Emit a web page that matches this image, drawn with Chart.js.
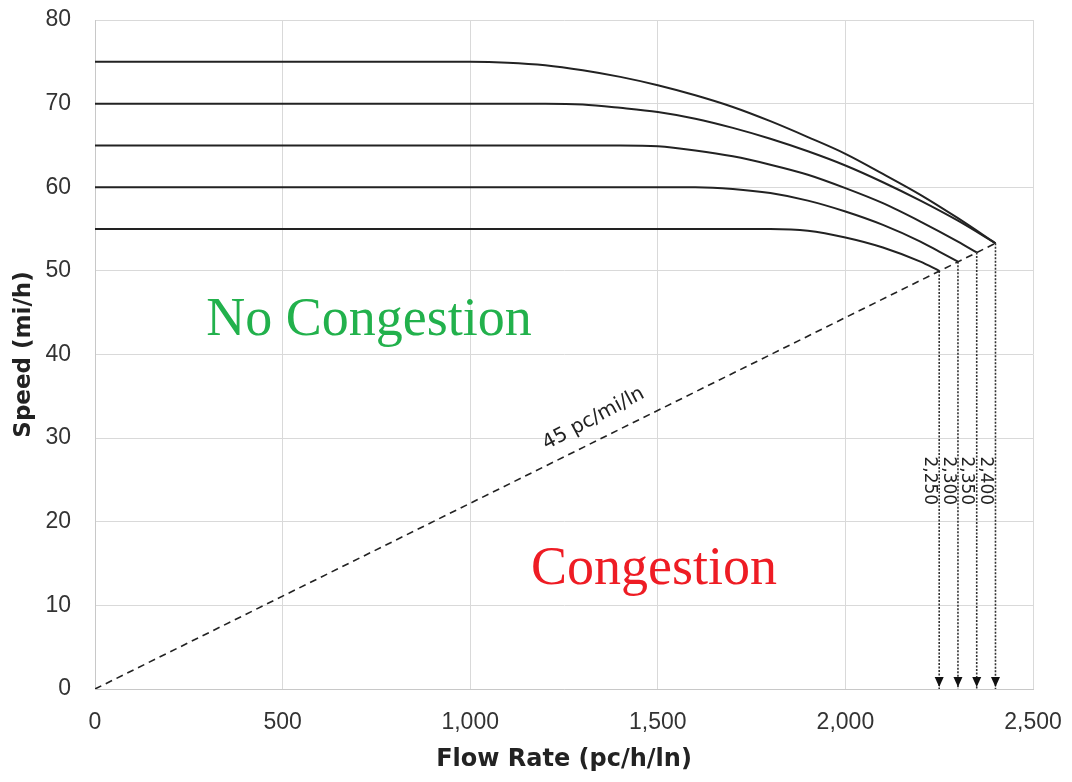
<!DOCTYPE html>
<html>
<head>
<meta charset="utf-8">
<script src="https://cdn.jsdelivr.net/npm/chart.js@4/dist/chart.umd.min.js"></script>
<style>
  html, body { margin: 0; padding: 0; background: #fff; }
  #wrap { width: 1072px; height: 782px; position: relative; }
</style>
</head>
<body>
<div id="wrap"><canvas id="c" width="1072" height="782"></canvas></div>
<script>
// ---- Data ----
const flow75  = [0, 1000, 1100, 1200, 1300, 1400, 1500, 1600, 1700, 1800, 1900, 2000, 2100, 2200, 2300, 2400];
const speed75 = [75, 75, 74.9, 74.6, 74.0, 73.2, 72.2, 71.0, 69.6, 67.9, 66.0, 64.0, 61.6, 59.1, 56.3, 53.3];

const flow70  = [0, 1200, 1300, 1400, 1500, 1600, 1700, 1800, 1900, 2000, 2100, 2200, 2300, 2400];
const speed70 = [70, 70, 69.9, 69.5, 69.0, 68.2, 67.1, 65.8, 64.3, 62.6, 60.6, 58.4, 56.0, 53.3];

const flow65  = [0, 1400, 1500, 1600, 1700, 1800, 1900, 2000, 2100, 2200, 2300, 2350];
const speed65 = [65, 65, 64.9, 64.4, 63.7, 62.7, 61.5, 59.9, 58.1, 55.9, 53.5, 52.2];

const flow60  = [0, 1600, 1700, 1800, 1900, 2000, 2100, 2200, 2250, 2300];
const speed60 = [60, 60, 59.8, 59.3, 58.4, 57.1, 55.5, 53.5, 52.3, 51.1];

const flow55  = [0, 1800, 1900, 2000, 2100, 2200, 2250];
const speed55 = [55, 55, 54.8, 54.0, 52.8, 51.1, 50];

const capacityFlow   = [2250, 2300, 2350, 2400];
const capacitySpeed  = [50, 51.1, 52.2, 53.3];
const capacityLabels = ['2,250', '2,300', '2,350', '2,400'];

const densityFlow  = [0, 2400];
const densitySpeed = [0, 53.3];
const densityLabel = '45 pc/mi/ln';

const xTicks = [0, 500, 1000, 1500, 2000, 2500];
const yTicks = [0, 10, 20, 30, 40, 50, 60, 70, 80];

// ---- Build datasets ----
const pts = (xs, ys) => xs.map((x, i) => ({ x: x, y: ys[i] }));
const curveStyle = {
  showLine: true, borderColor: '#222', borderWidth: 2, pointRadius: 0,
  cubicInterpolationMode: 'monotone', fill: false
};
const datasets = [
  Object.assign({ label: 'FFS 75', data: pts(flow75, speed75) }, curveStyle),
  Object.assign({ label: 'FFS 70', data: pts(flow70, speed70) }, curveStyle),
  Object.assign({ label: 'FFS 65', data: pts(flow65, speed65) }, curveStyle),
  Object.assign({ label: 'FFS 60', data: pts(flow60, speed60) }, curveStyle),
  Object.assign({ label: 'FFS 55', data: pts(flow55, speed55) }, curveStyle),
  {
    label: 'density', data: pts(densityFlow, densitySpeed), showLine: true,
    borderColor: '#222', borderWidth: 1.6, borderDash: [7, 5], pointRadius: 0, fill: false
  }
];
capacityFlow.forEach((f, i) => {
  datasets.push({
    label: 'cap' + i, data: [{ x: f, y: capacitySpeed[i] }, { x: f, y: 0 }], showLine: true,
    borderColor: '#333', borderWidth: 1.6, borderDash: [2, 1.5], pointRadius: 0, fill: false,
    isCapacity: true, capLabel: capacityLabels[i]
  });
});

// ---- Annotation plugin ----
const annot = {
  id: 'annot',
  afterDatasetsDraw(chart) {
    const ctx = chart.ctx, xs = chart.scales.x, ys = chart.scales.y;
    ctx.save();
    // arrowheads + capacity labels
    chart.data.datasets.forEach(ds => {
      if (!ds.isCapacity) return;
      const px = xs.getPixelForValue(ds.data[1].x);
      const py = ys.getPixelForValue(ds.data[1].y) - 2;
      ctx.fillStyle = '#111';
      ctx.beginPath();
      ctx.moveTo(px, py);
      ctx.lineTo(px - 4.5, py - 10);
      ctx.lineTo(px + 4.5, py - 10);
      ctx.closePath();
      ctx.fill();
      // rotated label
      ctx.save();
      ctx.translate(px - 10, ys.getPixelForValue(24.9));
      ctx.rotate(Math.PI / 2);
      ctx.font = '17px "DejaVu Sans"';
      ctx.fillStyle = '#222';
      ctx.textAlign = 'center';
      ctx.textBaseline = 'middle';
      ctx.fillText(ds.capLabel, 0, 0);
      ctx.restore();
    });
    // density label
    const x0 = xs.getPixelForValue(densityFlow[0]), y0 = ys.getPixelForValue(densitySpeed[0]);
    const x1 = xs.getPixelForValue(densityFlow[1]), y1 = ys.getPixelForValue(densitySpeed[1]);
    const ang = Math.atan2(y1 - y0, x1 - x0) - 0.03;
    ctx.save();
    ctx.translate(xs.getPixelForValue(1355), ys.getPixelForValue(30.1));
    ctx.rotate(ang);
    ctx.font = '20px "DejaVu Sans"';
    ctx.fillStyle = '#222';
    ctx.textAlign = 'center';
    ctx.textBaseline = 'middle';
    ctx.fillText(densityLabel, 0, -21);
    ctx.restore();
    // region labels
    const region = (txt, fx, sy, color) => {
      ctx.save();
      ctx.font = '54px "Liberation Serif"';
      ctx.fillStyle = color;
      ctx.textAlign = 'center';
      ctx.textBaseline = 'alphabetic';
      ctx.fillText(txt, xs.getPixelForValue(fx), ys.getPixelForValue(sy));
      ctx.restore();
    };
    region('No Congestion', 730, 42.3, '#22b14c');
    region('Congestion', 1490, 12.6, '#ee1c24');
    ctx.restore();
  }
};

new Chart(document.getElementById('c'), {
  type: 'scatter',
  data: { datasets: datasets },
  plugins: [annot],
  options: {
    responsive: false,
    animation: false,
    layout: { padding: { left: 0, right: 39, top: 20, bottom: 0 } },
    plugins: { legend: { display: false }, tooltip: { enabled: false } },
    scales: {
      x: {
        type: 'linear', min: 0, max: 2500,
        afterBuildTicks: s => { s.ticks = xTicks.map(v => ({ value: v })); },
        afterFit: s => { s.height = 93; s.paddingLeft = 0; s.paddingRight = 0; },
        grid: { color: '#d9d9d9', lineWidth: 1, drawTicks: false },
        border: { color: '#c8c8c8' },
        ticks: {
          padding: 20, color: '#333', font: { family: '"Liberation Sans"', size: 23 },
          callback: v => v.toLocaleString('en-US'), maxRotation: 0
        },
        title: {
          display: true, text: 'Flow Rate (pc/h/ln)', color: '#222',
          font: { family: '"DejaVu Sans"', size: 24, weight: 'bold' },
          padding: { top: 0, bottom: 8 }
        }
      },
      y: {
        type: 'linear', min: 0, max: 80,
        afterBuildTicks: s => { s.ticks = yTicks.map(v => ({ value: v })); },
        afterFit: s => { s.width = 95; s.paddingTop = 0; s.paddingBottom = 0; },
        grid: { color: '#d9d9d9', lineWidth: 1, drawTicks: false },
        border: { color: '#c8c8c8' },
        ticks: { padding: 24, color: '#333', font: { family: '"Liberation Sans"', size: 23 } },
        title: {
          display: true, text: 'Speed (mi/h)', color: '#222',
          font: { family: '"DejaVu Sans"', size: 23, weight: 'bold' },
          padding: { top: 10, bottom: 0 }
        }
      }
    }
  }
});
</script>
</body>
</html>
